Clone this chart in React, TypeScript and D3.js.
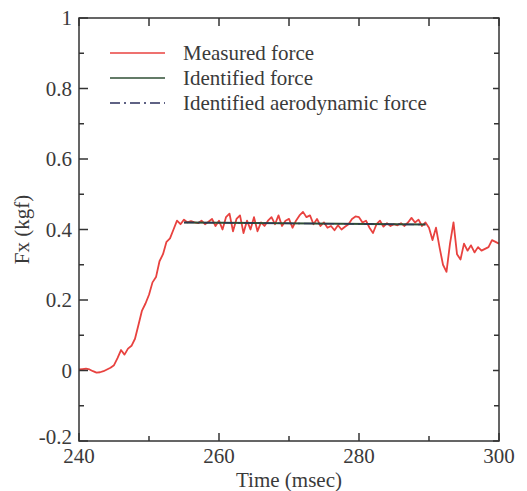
import React from "react";
import * as d3 from "d3";

const timeStart = 240;
const timeStep = 0.5;
const measuredForce = [
  0.003, 0.004, 0.005, 0.003, -0.002, -0.006, -0.005, -0.002, 0.003, 0.008,
  0.015, 0.035, 0.058, 0.045, 0.062, 0.07, 0.09, 0.13, 0.17, 0.19,
  0.215, 0.25, 0.265, 0.31, 0.33, 0.365, 0.375, 0.4, 0.425, 0.415,
  0.428, 0.42, 0.424, 0.42, 0.418, 0.425, 0.415, 0.422, 0.43, 0.41,
  0.425, 0.4, 0.435, 0.445, 0.395, 0.43, 0.44, 0.39, 0.425, 0.4,
  0.435, 0.395, 0.42, 0.41, 0.425, 0.435, 0.415, 0.44, 0.41, 0.425,
  0.43, 0.405, 0.425, 0.44, 0.45, 0.435, 0.44, 0.415, 0.43, 0.41,
  0.42, 0.405, 0.41, 0.398, 0.412, 0.4, 0.408, 0.415, 0.43, 0.437,
  0.435, 0.42, 0.425, 0.405, 0.39, 0.415, 0.425, 0.408, 0.418, 0.41,
  0.415, 0.412, 0.418, 0.41, 0.42, 0.433, 0.42, 0.428, 0.41, 0.42,
  0.405,
  0.37, 0.405, 0.35, 0.3, 0.28, 0.36, 0.42, 0.33, 0.315, 0.36,
  0.34, 0.355, 0.335, 0.35, 0.34, 0.345, 0.35, 0.37, 0.365, 0.36,
];
const identifiedTime = [255, 289.5];
const identifiedForce = [0.42, 0.414];
const aeroTime = [255, 289.5];
const aeroForce = [0.42, 0.414];

const xTicks = [240, 260, 280, 300];
const xMinorTicks = [250, 270, 290];
const yTicks = [-0.2, 0, 0.2, 0.4, 0.6, 0.8, 1];
const yMinorTicks = [-0.1, 0.1, 0.3, 0.5, 0.7, 0.9];
const legendLabels = ["Measured force", "Identified force", "Identified aerodynamic force"];

const W = 527;
const H = 491;
const M = { left: 79, right: 28, top: 18, bottom: 50 };
const FONT = "Liberation Serif";
const FS = 21;
const AXIS = "#333";
const TEXT = "#3a3a3a";
const RED = "#e8423f";
const GREEN = "#2f4f35";
const NAVY = "#2b2f5c";

export default function App() {
  const x = d3.scaleLinear().domain([240, 300]).range([M.left, W - M.right]);
  const y = d3.scaleLinear().domain([-0.2, 1]).range([H - M.bottom, M.top]);
  const measured = measuredForce.map((v, i) => [timeStart + i * timeStep, v] as [number, number]);
  const line = d3.line<[number, number]>().x((d) => x(d[0])).y((d) => y(d[1]));
  const ident = identifiedTime.map((t, i) => [t, identifiedForce[i]] as [number, number]);
  const aero = aeroTime.map((t, i) => [t, aeroForce[i]] as [number, number]);
  const x0 = x.range()[0], x1 = x.range()[1];
  const y0 = y.range()[0], y1 = y.range()[1];
  const legendColors = [RED, GREEN, NAVY];
  const legendDash = [undefined, undefined, "10,4,2,4"];
  const ts = { fontFamily: FONT, fontSize: FS, fill: TEXT } as React.CSSProperties;
  return (
    <svg width={W} height={H} style={{ position: "absolute", left: 0, top: 0, background: "#fff" }}>
      <path d={line(measured) ?? ""} fill="none" stroke={RED} strokeWidth={1.8} strokeLinejoin="round" />
      <path d={line(ident) ?? ""} fill="none" stroke={GREEN} strokeWidth={2} />
      <path d={line(aero) ?? ""} fill="none" stroke={NAVY} strokeWidth={1.5} strokeDasharray="10,4,2,4" opacity={0.7} />
      <rect x={x0} y={y1} width={x1 - x0} height={y0 - y1} fill="none" stroke={AXIS} strokeWidth={1.5} />
      {yTicks.map((t) => (
        <g key={"y" + t}>
          <line x1={x0} x2={x0 + 9} y1={y(t)} y2={y(t)} stroke={AXIS} strokeWidth={1.5} />
          <line x1={x1} x2={x1 - 6} y1={y(t)} y2={y(t)} stroke={AXIS} strokeWidth={1.5} />
          <text x={x0 - 7} y={y(t) + (t === -0.2 ? 3 : 7)} textAnchor="end" style={ts}>
            {String(t)}
          </text>
        </g>
      ))}
      {yMinorTicks.map((t) => (
        <g key={"ym" + t}>
          <line x1={x0} x2={x0 + 5} y1={y(t)} y2={y(t)} stroke={AXIS} strokeWidth={1.5} />
          <line x1={x1} x2={x1 - 5} y1={y(t)} y2={y(t)} stroke={AXIS} strokeWidth={1.5} />
        </g>
      ))}
      {xTicks.map((t) => (
        <g key={"x" + t}>
          <line x1={x(t)} x2={x(t)} y1={y0} y2={y0 - 8} stroke={AXIS} strokeWidth={1.5} />
          <line x1={x(t)} x2={x(t)} y1={y1} y2={y1 + 8} stroke={AXIS} strokeWidth={1.5} />
          <text x={x(t)} y={y0 + 22} textAnchor="middle" style={ts}>
            {t}
          </text>
        </g>
      ))}
      {xMinorTicks.map((t) => (
        <g key={"xm" + t}>
          <line x1={x(t)} x2={x(t)} y1={y0} y2={y0 - 5} stroke={AXIS} strokeWidth={1.5} />
          <line x1={x(t)} x2={x(t)} y1={y1} y2={y1 + 8} stroke={AXIS} strokeWidth={1.5} />
        </g>
      ))}
      <text x={(x0 + x1) / 2} y={487} textAnchor="middle" style={ts}>
        Time (msec)
      </text>
      <text transform={`translate(29,${(y0 + y1) / 2}) rotate(-90)`} textAnchor="middle" style={ts}>
        Fx (kgf)
      </text>
      {legendLabels.map((l, i) => (
        <g key={l}>
          <line x1={110} x2={165} y1={53 + i * 25} y2={53 + i * 25} stroke={legendColors[i]} strokeWidth={1.5} strokeDasharray={legendDash[i]} />
          <text x={183} y={53 + i * 25 + 7} style={ts}>
            {l}
          </text>
        </g>
      ))}
    </svg>
  );
}
